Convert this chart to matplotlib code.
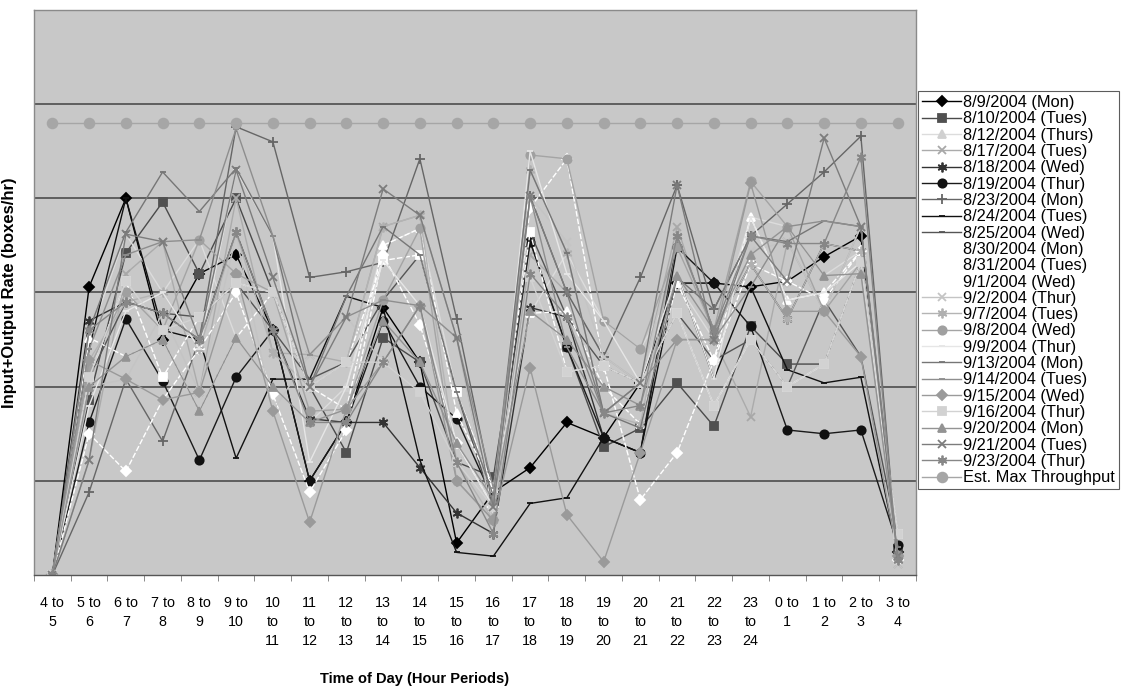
import matplotlib
matplotlib.use("Agg")
import matplotlib.pyplot as plt
from matplotlib.ticker import FixedLocator, NullLocator

plt.rcParams['font.family'] = ['Liberation Sans', 'DejaVu Sans']

# hour periods along the x axis
periods = ["4 to\n5", "5 to\n6", "6 to\n7", "7 to\n8", "8 to\n9", "9 to\n10",
           "10\nto\n11", "11\nto\n12", "12\nto\n13", "13\nto\n14", "14\nto\n15",
           "15\nto\n16", "16\nto\n17", "17\nto\n18", "18\nto\n19", "19\nto\n20",
           "20\nto\n21", "21\nto\n22", "22\nto\n23", "23\nto\n24",
           "0 to\n1", "1 to\n2", "2 to\n3", "3 to\n4"]

# input+output rate (boxes/hr) per hour period, one list per day
d_0809 = [0, 153, 200, 125, 160, 170, 130, 50, 81, 142, 113, 17, 44, 57, 81, 73, 102, 155, 155, 153, 156, 169, 180, 12]
d_0810 = [0, 93, 171, 198, 160, 200, 150, 100, 65, 126, 113, 60, 52, 177, 121, 68, 78, 102, 79, 132, 112, 112, 166, 14]
d_0812 = [0, 126, 181, 150, 178, 126, 100, 81, 100, 175, 184, 97, 46, 139, 171, 135, 120, 155, 125, 190, 185, 159, 172, 8]
d_0817 = [0, 61, 160, 177, 97, 200, 118, 117, 113, 185, 191, 126, 29, 170, 150, 116, 102, 185, 125, 84, 177, 140, 185, 6]
d_0818 = [0, 135, 145, 139, 125, 182, 130, 83, 81, 81, 57, 33, 22, 142, 137, 73, 65, 180, 130, 165, 136, 176, 172, 10]
d_0819 = [0, 81, 136, 103, 61, 105, 130, 50, 81, 135, 100, 83, 40, 177, 121, 73, 65, 174, 155, 132, 77, 75, 77, 16]
d_0823 = [0, 44, 104, 71, 125, 238, 230, 158, 161, 166, 221, 136, 42, 201, 150, 116, 158, 207, 141, 180, 197, 214, 233, 8]
d_0824 = [0, 120, 200, 130, 125, 62, 104, 104, 148, 142, 61, 12, 10, 38, 41, 73, 65, 160, 104, 153, 109, 102, 105, 12]
d_0825 = [0, 105, 145, 139, 137, 155, 130, 104, 113, 146, 170, 97, 36, 182, 137, 111, 102, 139, 114, 125, 100, 146, 116, 20]
d_0830 = [0, 75, 55, 93, 120, 150, 96, 44, 77, 170, 133, 70, 36, 195, 221, 111, 40, 65, 114, 165, 156, 146, 172, 8]
d_0831 = [0, 105, 156, 105, 137, 155, 150, 100, 113, 167, 170, 97, 46, 182, 108, 111, 102, 139, 90, 125, 100, 112, 166, 22]
d_0901 = [0, 126, 116, 125, 87, 126, 150, 100, 88, 175, 184, 86, 46, 139, 140, 100, 80, 155, 114, 190, 146, 150, 172, 10]
d_0902 = [0, 100, 104, 139, 97, 180, 87, 117, 137, 113, 143, 126, 29, 201, 177, 116, 102, 180, 125, 172, 177, 140, 185, 6]
d_0907 = [0, 114, 145, 150, 120, 182, 118, 100, 113, 185, 191, 60, 29, 215, 171, 86, 80, 180, 130, 165, 136, 176, 172, 8]
d_0908 = [0, 110, 150, 130, 178, 160, 150, 87, 88, 146, 184, 50, 29, 223, 221, 135, 120, 174, 130, 209, 185, 140, 166, 10]
d_0909 = [0, 90, 140, 150, 120, 215, 180, 60, 100, 167, 143, 70, 36, 225, 160, 135, 102, 160, 104, 190, 146, 150, 166, 15]
d_0913 = [0, 130, 182, 214, 193, 216, 180, 100, 148, 185, 170, 97, 42, 215, 171, 86, 78, 158, 141, 180, 177, 188, 185, 15]
d_0914 = [0, 120, 170, 177, 178, 237, 180, 117, 137, 146, 143, 126, 46, 201, 121, 86, 102, 125, 125, 153, 185, 188, 185, 12]
d_0915 = [0, 114, 104, 93, 97, 160, 87, 28, 88, 113, 143, 50, 29, 110, 32, 7, 65, 125, 125, 208, 140, 140, 116, 10]
d_0916 = [0, 105, 156, 130, 137, 155, 150, 100, 113, 113, 97, 60, 36, 158, 108, 111, 102, 139, 90, 125, 100, 112, 166, 22]
d_0920 = [0, 100, 116, 125, 87, 126, 100, 81, 88, 135, 113, 70, 40, 140, 125, 100, 90, 159, 130, 170, 185, 159, 160, 10]
d_0921 = [0, 61, 181, 177, 125, 215, 158, 100, 137, 205, 191, 126, 36, 201, 150, 86, 102, 207, 125, 180, 156, 232, 185, 10]
d_0923 = [0, 130, 145, 139, 125, 182, 130, 81, 81, 113, 143, 60, 22, 160, 137, 86, 90, 180, 130, 180, 176, 176, 222, 8]
est_max = [240] * 24

ast = (6, 2, 0)  # six-armed asterisk marker
series = [
    ("8/9/2004 (Mon)", d_0809, "#000000", "D", "#000000", 5),
    ("8/10/2004 (Tues)", d_0810, "#4a4a4a", "s", "#505050", 6),
    ("8/12/2004 (Thurs)", d_0812, "#dcdcdc", "^", "#d0d0d0", 6),
    ("8/17/2004 (Tues)", d_0817, "#ababab", "x", "#a8a8a8", 6),
    ("8/18/2004 (Wed)", d_0818, "#333333", ast, "#333333", 7),
    ("8/19/2004 (Thur)", d_0819, "#1a1a1a", "o", "#111111", 6),
    ("8/23/2004 (Mon)", d_0823, "#666666", "+", "#666666", 7),
    ("8/24/2004 (Tues)", d_0824, "#111111", "_", "#111111", 5),
    ("8/25/2004 (Wed)", d_0825, "#555555", "_", "#555555", 5),
    ("8/30/2004 (Mon)", d_0830, "#ffffff", "D", "#ffffff", 5),
    ("8/31/2004 (Tues)", d_0831, "#ffffff", "s", "#ffffff", 6),
    ("9/1/2004 (Wed)", d_0901, "#ffffff", "^", "#ffffff", 6),
    ("9/2/2004 (Thur)", d_0902, "#c4c4c4", "x", "#c4c4c4", 6),
    ("9/7/2004 (Tues)", d_0907, "#b4b4b4", ast, "#b0b0b0", 7),
    ("9/8/2004 (Wed)", d_0908, "#a4a4a4", "o", "#a0a0a0", 6),
    ("9/9/2004 (Thur)", d_0909, "#e6e6e6", "_", "#e6e6e6", 5),
    ("9/13/2004 (Mon)", d_0913, "#767676", "_", "#767676", 5),
    ("9/14/2004 (Tues)", d_0914, "#8e8e8e", "_", "#8e8e8e", 5),
    ("9/15/2004 (Wed)", d_0915, "#9a9a9a", "D", "#9a9a9a", 5),
    ("9/16/2004 (Thur)", d_0916, "#d2d2d2", "s", "#d2d2d2", 6),
    ("9/20/2004 (Mon)", d_0920, "#939393", "^", "#939393", 6),
    ("9/21/2004 (Tues)", d_0921, "#7c7c7c", "x", "#7c7c7c", 6),
    ("9/23/2004 (Thur)", d_0923, "#878787", ast, "#878787", 7),
    ("Est. Max Throughput", est_max, "#a6a6a6", "o", "#a6a6a6", 7),
]

fig = plt.figure(figsize=(11.3, 6.86), dpi=100)
ax = fig.add_axes([34 / 1130, 1 - 575 / 686, 882 / 1130, 565 / 686])
ax.set_facecolor("#c8c8c8")

x = list(range(len(periods)))
for label, vals, col, mk, mcol, ms in series:
    white = col == "#ffffff"
    ax.plot(x, vals, color=col, lw=1.0, ls=(0, (4, 1.5)) if white else "-",
            marker=mk, ms=ms, mfc=mcol, mec=mcol, mew=1.3, label=label)

ax.set_xlim(-0.5, 23.5)
ax.set_ylim(0, 300)

# horizontal gridlines, no y tick labels
for g in [50, 100, 150, 200, 250]:
    ax.axhline(g, color="#4d4d4d", lw=1.2, zorder=0.5)
ax.yaxis.set_major_locator(NullLocator())

ax.xaxis.set_major_locator(FixedLocator(x))
ax.set_xticklabels(periods, fontsize=10.3, linespacing=1.45, va="top")
ax.xaxis.set_minor_locator(FixedLocator([i - 0.5 for i in range(25)]))
ax.tick_params(axis="x", which="major", length=0, pad=15)
ax.tick_params(axis="x", which="minor", length=4, color="#777777", direction="out")

for s in ax.spines.values():
    s.set_color("#8a8a8a")
    s.set_linewidth(1.0)
ax.spines["bottom"].set_color("#555555")

ax.set_ylabel("Input+Output Rate (boxes/hr)", fontsize=12, fontweight="bold")
ax.yaxis.set_label_coords(-0.019, 0.5)
ax.set_xlabel("Time of Day (Hour Periods)", fontsize=10.5, fontweight="bold")
ax.xaxis.set_label_coords(0.431, -0.172)

leg = fig.legend(loc="upper left", bbox_to_anchor=(918 / 1130, 1 - 91 / 686),
                 bbox_transform=fig.transFigure, borderaxespad=0, fontsize=11.8,
                 frameon=True, fancybox=False, edgecolor="#333333",
                 handlelength=2.4, handletextpad=0.1, labelspacing=0.08,
                 borderpad=0.25, markerscale=1.0)
leg.get_frame().set_linewidth(0.8)

fig.savefig("out.png", dpi=100)
